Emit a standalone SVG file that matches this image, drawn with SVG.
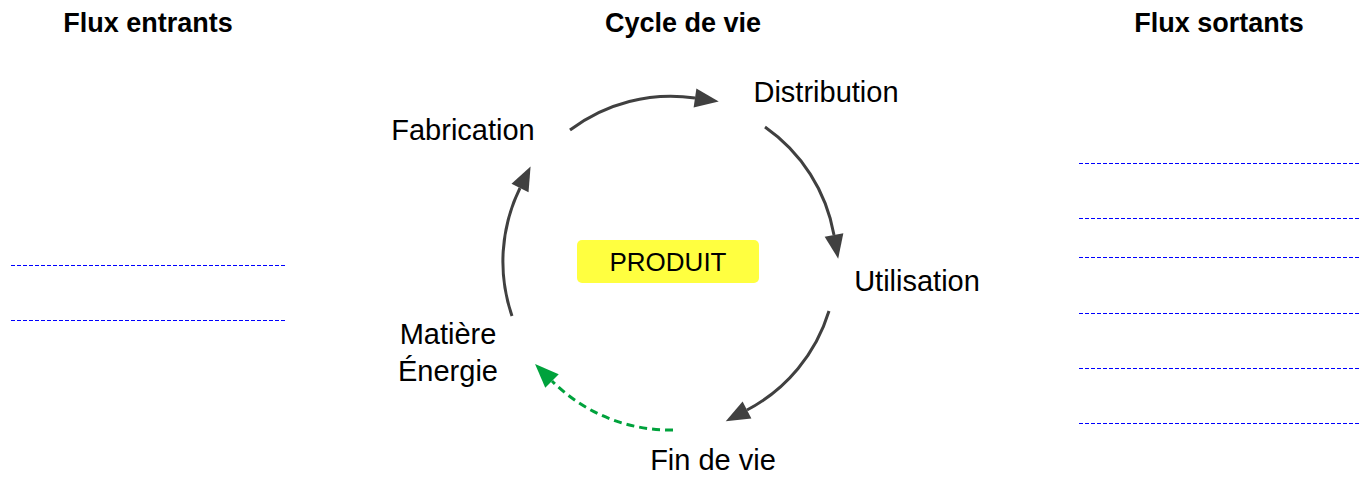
<svg xmlns="http://www.w3.org/2000/svg" width="1370" height="477" viewBox="0 0 1370 477">
  <style>
    .title { font-family: "Liberation Sans", Arial, sans-serif; font-weight: bold; font-size: 27px; fill: #000; text-anchor: middle; }
    .label { font-family: "Liberation Sans", Arial, sans-serif; font-size: 29px; fill: #000; text-anchor: middle; }
    .prod { font-family: "Liberation Sans", Arial, sans-serif; font-size: 26px; fill: #000; text-anchor: middle; }
    .flow { fill: none; stroke: #404040; stroke-width: 3; }
    .loop { fill: none; stroke: #00a23c; stroke-width: 3; stroke-dasharray: 8 5; }
    .slot { stroke: #0000ff; stroke-width: 1; stroke-dasharray: 4 2; }
  </style>
  <defs>
    <marker id="ah" viewBox="0 -10 24 20" refX="0" refY="0" markerWidth="24" markerHeight="20" markerUnits="userSpaceOnUse" orient="auto" overflow="visible">
      <path d="M0,-9.5 L24,0 L0,9.5 z" fill="#404040"/>
    </marker>
    <marker id="ahg" viewBox="0 -10 24 20" refX="0" refY="0" markerWidth="24" markerHeight="20" markerUnits="userSpaceOnUse" orient="auto" overflow="visible">
      <path d="M0,-9.5 L24,0 L0,9.5 z" fill="#00a23c"/>
    </marker>
  </defs>

  <rect width="1370" height="477" fill="#ffffff"/>

  <!-- column headings -->
  <g id="headings">
    <text class="title" x="148" y="32">Flux entrants</text>
    <text class="title" x="683" y="32">Cycle de vie</text>
    <text class="title" x="1219" y="32">Flux sortants</text>
  </g>

  <!-- empty entry lines for inputs -->
  <g id="flux-entrants">
    <line class="slot" x1="11" y1="265.5" x2="285" y2="265.5"/>
    <line class="slot" x1="11" y1="320.5" x2="285" y2="320.5"/>
  </g>

  <!-- empty entry lines for outputs -->
  <g id="flux-sortants">
    <line class="slot" x1="1079" y1="163.5" x2="1360" y2="163.5"/>
    <line class="slot" x1="1079" y1="218.5" x2="1360" y2="218.5"/>
    <line class="slot" x1="1079" y1="257.5" x2="1360" y2="257.5"/>
    <line class="slot" x1="1079" y1="313.5" x2="1360" y2="313.5"/>
    <line class="slot" x1="1079" y1="368.5" x2="1360" y2="368.5"/>
    <line class="slot" x1="1079" y1="423.5" x2="1360" y2="423.5"/>
  </g>

  <!-- product at the centre of the cycle -->
  <g id="produit">
    <rect x="577" y="240" width="182" height="43" rx="5" fill="#ffff40"/>
    <text class="prod" x="668" y="271">PRODUIT</text>
  </g>

  <!-- life-cycle stages -->
  <g id="fabrication">
    <text class="label" x="463" y="140">Fabrication</text>
  </g>
  <g id="distribution">
    <text class="label" x="826" y="102">Distribution</text>
  </g>
  <g id="utilisation">
    <text class="label" x="917" y="291">Utilisation</text>
  </g>
  <g id="fin-de-vie">
    <text class="label" x="713" y="470">Fin de vie</text>
  </g>
  <g id="matiere-energie">
    <text class="label" x="448" y="344">Matière</text>
    <text class="label" x="448" y="381">Énergie</text>
  </g>

  <!-- cycle arrows -->
  <g id="connectors">
    <path class="flow" d="M570,130 A167,167 0 0 1 695,98" marker-end="url(#ah)"/>
    <path class="flow" d="M765,127 A167,167 0 0 1 834,235" marker-end="url(#ah)"/>
    <path class="flow" d="M829,311 A167,167 0 0 1 747,410" marker-end="url(#ah)"/>
    <path class="loop" d="M673,430 A167,167 0 0 1 552,381" marker-end="url(#ahg)"/>
    <path class="flow" d="M512,316 A167,167 0 0 1 520,188" marker-end="url(#ah)"/>
  </g>
</svg>
